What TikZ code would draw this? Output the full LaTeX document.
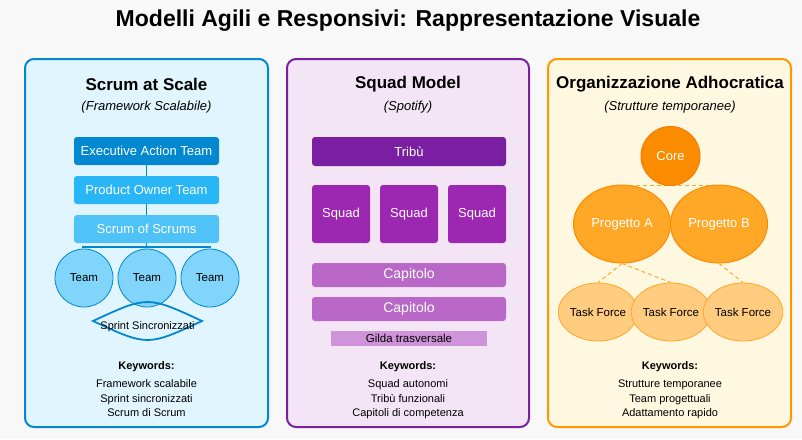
\documentclass[tikz,border=0pt]{standalone}
\usepackage{fontspec}
\setmainfont{Liberation Sans}
\usetikzlibrary{shapes.geometric}
\definecolor{bgc}{HTML}{F8F8F8}
\definecolor{blueS}{HTML}{0288D1}
\definecolor{blueP}{HTML}{E1F5FE}
\definecolor{blueB}{HTML}{29B6F6}
\definecolor{blueC}{HTML}{4FC3F7}
\definecolor{blueT}{HTML}{81D4FA}
\definecolor{purS}{HTML}{7B1FA2}
\definecolor{purP}{HTML}{F3E5F5}
\definecolor{purQ}{HTML}{9C27B0}
\definecolor{purC}{HTML}{BA68C8}
\definecolor{purG}{HTML}{CE93D8}
\definecolor{orS}{HTML}{FF9800}
\definecolor{orP}{HTML}{FFF8E1}
\definecolor{orCore}{HTML}{FB8C00}
\definecolor{orCoreS}{HTML}{F57C00}
\definecolor{orProj}{HTML}{FFA726}
\definecolor{orTask}{HTML}{FFCC80}
\begin{document}
\begin{tikzpicture}[x=1pt,y=-1pt,
  panel/.style={rounded corners=9pt, line width=2pt},
  ttl/.style={font=\fontsize{23}{26}\selectfont\bfseries},
  hdr/.style={font=\fontsize{17}{19}\selectfont\bfseries},
  sub/.style={font=\fontsize{13}{15}\selectfont\itshape},
  wbox/.style={rounded corners=3pt, text=white, inner sep=0pt, font=\fontsize{13}{15}\selectfont},
  kwt/.style={font=\fontsize{11}{13}\selectfont\bfseries},
  kw/.style={font=\fontsize{11}{13}\selectfont, text height=8pt, text depth=2.5pt},
  team/.style={circle, minimum size=58, inner sep=0pt, fill=blueT, draw=blueS, line width=0.8pt, font=\fontsize{11.5}{13}\selectfont},
  proj/.style={ellipse, minimum width=97, minimum height=78, inner sep=0pt, fill=orProj, draw=orCore, line width=1pt, text=white, font=\fontsize{13}{15}\selectfont},
  task/.style={ellipse, minimum width=76, minimum height=58, inner sep=0pt, fill=orTask, draw=orProj, line width=0.8pt, font=\fontsize{11.5}{13}\selectfont},
  dline/.style={draw=orProj, dashed, dash pattern=on 4pt off 3pt, line width=1pt}
]
\useasboundingbox (0,0) rectangle (802,439);
\fill[bgc] (0,0) rectangle (802,439);

\node[ttl] (title) at (408,21) {Modelli Agili e Responsivi: Rappresentazione Visuale};

% Panels
\draw[panel, draw=blueS, fill=blueP] (25,59) rectangle (268,427);
\draw[panel, draw=purS, fill=purP] (287,59) rectangle (529,427);
\draw[panel, draw=orS, fill=orP] (548,59) rectangle (791,427);

% ---------- Panel 1
\node[hdr] (h1) at (146.5,84) {Scrum at Scale};
\node[sub] (s1) at (146.5,107) {(Framework Scalabile)};
\node[wbox, fill=blueS, minimum width=145, minimum height=28] (eat) at (146.5,151) {Executive Action Team};
\node[wbox, fill=blueB, minimum width=145, minimum height=28] (pot) at (146.5,190) {Product Owner Team};
\node[wbox, fill=blueC, minimum width=145, minimum height=28] (sos) at (146.5,229) {Scrum of Scrums};
\coordinate (hub) at (146.5,247);
\coordinate (hl) at (82,247);
\coordinate (hr) at (211,247);
\draw[blueS, line width=1.2pt] (eat.south) -- (pot.north);
\draw[blueS, line width=1.2pt] (pot.south) -- (sos.north);
\draw[blueS, line width=1.2pt] (sos.south) -- (hub);
\draw[blueS, line width=1.2pt] (hl) -- (hr);
\node[team] (t1) at (84,278) {Team};
\node[team] (t2) at (147,278) {Team};
\node[team] (t3) at (210,278) {Team};
\draw[blueS, line width=1.8pt] (93,321) .. controls (147.5,295.7) .. (202,321) .. controls (147.5,346.3) .. (93,321) -- cycle;
\node[font=\fontsize{11}{13}\selectfont] (sprint) at (147.5,327) {Sprint Sincronizzati};
\node[kwt] (k1) at (146.5,367) {Keywords:};
\node[kw] (k1a) at (146.5,385) {Framework scalabile};
\node[kw] (k1b) at (146.5,400) {Sprint sincronizzati};
\node[kw] (k1c) at (146.5,414) {Scrum di Scrum};

% ---------- Panel 2
\node[hdr] (h2) at (408,84) {Squad Model};
\node[sub] (s2) at (408,107) {(Spotify)};
\node[wbox, fill=purS, minimum width=194, minimum height=29] (tribu) at (409,151.5) {Tribù};
\node[wbox, fill=purQ, minimum width=58, minimum height=58] (sq1) at (341,214) {Squad};
\node[wbox, fill=purQ, minimum width=58, minimum height=58] (sq2) at (409,214) {Squad};
\node[wbox, fill=purQ, minimum width=58, minimum height=58] (sq3) at (477,214) {Squad};
\node[wbox, fill=purC, minimum width=194, minimum height=24, font=\fontsize{14}{16}\selectfont] (cap1) at (409,275) {Capitolo};
\node[wbox, fill=purC, minimum width=194, minimum height=24, font=\fontsize{14}{16}\selectfont] (cap2) at (409,309) {Capitolo};
\node[fill=purG, minimum width=156, minimum height=15, inner sep=0pt, font=\fontsize{11.5}{13}\selectfont] (gilda) at (409,338.5) {Gilda trasversale};
\node[kwt] (k2) at (408,367) {Keywords:};
\node[kw] (k2a) at (408,385) {Squad autonomi};
\node[kw] (k2b) at (408,400) {Tribù funzionali};
\node[kw] (k2c) at (408,414) {Capitoli di competenza};

% ---------- Panel 3
\node[hdr] (h3) at (670,84) {Organizzazione Adhocratica};
\node[sub] (s3) at (670,107) {(Strutture temporanee)};
\coordinate (dl) at (622,185);
\coordinate (dr) at (718,185);
\draw[dline] (dl) -- (dr);
\node[proj] (pa) at (622,224) {Progetto A};
\node[proj] (pb) at (719,224) {Progetto B};
\node[circle, minimum size=59, inner sep=0pt, fill=orCore, draw=orCoreS, line width=1pt, text=white, font=\fontsize{13}{15}\selectfont] (core) at (670.5,156) {Core};
\node[task] (tf1) at (598,312) {Task Force};
\node[task] (tf2) at (671,312) {Task Force};
\node[task] (tf3) at (743,312) {Task Force};
\draw[dline] (pa.south) -- (tf1.north);
\draw[dline] (pa.south) -- (tf2.north);
\draw[dline] (pb.south) -- (tf3.north);
\node[kwt] (k3) at (670,367) {Keywords:};
\node[kw] (k3a) at (670,385) {Strutture temporanee};
\node[kw] (k3b) at (670,400) {Team progettuali};
\node[kw] (k3c) at (670,414) {Adattamento rapido};
\end{tikzpicture}
\end{document}
